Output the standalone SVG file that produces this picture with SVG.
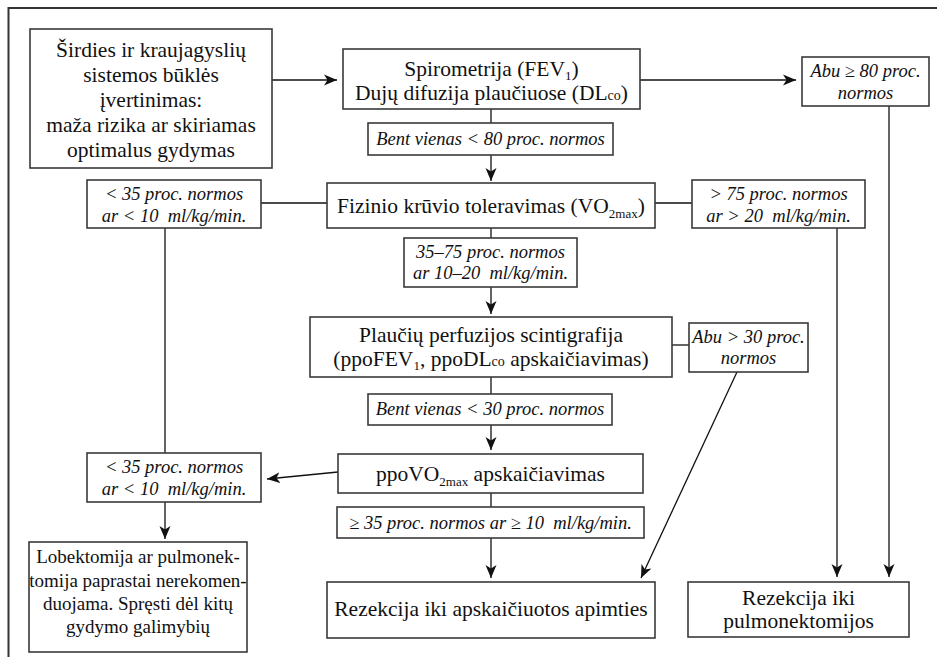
<svg xmlns="http://www.w3.org/2000/svg" width="937" height="657" viewBox="0 0 937 657">
  <style>
    .box { fill: #fff; stroke: #3a3a3a; stroke-width: 1.6; }
    text { font-family: "Liberation Serif", "Times New Roman", serif; fill: #111; text-anchor: middle; }
    .t { font-size: 21.5px; }
    .s { font-size: 19px; }
    .i { font-size: 18.5px; font-style: italic; white-space: pre; }
    .sub { font-size: 13px; }
    .sc { font-size: 14px; }
    .ln { fill: none; stroke: #111; stroke-width: 1.3; }
    .ar { fill: none; stroke: #111; stroke-width: 1.3; marker-end: url(#head); }
    .frame { fill: none; stroke: #333; stroke-width: 2; }
  </style>
  <defs>
    <marker id="head" markerUnits="userSpaceOnUse" markerWidth="14" markerHeight="12" refX="13" refY="6" orient="auto">
      <path d="M0,0.5 L13,6 L0,11.5 L3.5,6 Z" fill="#111"/>
    </marker>
  </defs>

  <rect width="937" height="657" fill="#fff"/>
  <path class="frame" d="M8.5,657 V8 H937"/>

  <g id="connectors">
    <line class="ar" x1="272" y1="80" x2="337" y2="80"/>
    <line class="ar" x1="640" y1="80" x2="796" y2="80"/>
    <line class="ar" x1="889" y1="106" x2="889" y2="577"/>
    <line class="ln" x1="491" y1="109" x2="491" y2="123"/>
    <line class="ar" x1="491" y1="155" x2="491" y2="181"/>
    <line class="ln" x1="327" y1="203" x2="261" y2="203"/>
    <line class="ln" x1="655" y1="203" x2="692" y2="203"/>
    <line class="ln" x1="165" y1="228" x2="165" y2="453"/>
    <line class="ln" x1="491" y1="228" x2="491" y2="238"/>
    <line class="ar" x1="491" y1="287" x2="491" y2="314"/>
    <line class="ar" x1="837" y1="228" x2="837" y2="577"/>
    <line class="ln" x1="672" y1="345" x2="689" y2="345"/>
    <line class="ar" x1="737" y1="372" x2="641" y2="578"/>
    <line class="ln" x1="491" y1="377" x2="491" y2="394"/>
    <line class="ar" x1="491" y1="425" x2="491" y2="450"/>
    <line class="ar" x1="338" y1="472" x2="267" y2="479"/>
    <line class="ar" x1="165" y1="502" x2="165" y2="539"/>
    <line class="ln" x1="491" y1="493" x2="491" y2="507"/>
    <line class="ar" x1="491" y1="538" x2="491" y2="578"/>
  </g>

  <g id="cardio">
    <rect class="box" x="30" y="29" width="242" height="139"/>
    <text class="t" x="151" y="57">Širdies ir kraujagyslių</text>
    <text class="t" x="151" y="82">sistemos būklės</text>
    <text class="t" x="151" y="107">įvertinimas:</text>
    <text class="t" x="151" y="132">maža rizika ar skiriamas</text>
    <text class="t" x="151" y="157">optimalus gydymas</text>
  </g>

  <g id="spirometry">
    <rect class="box" x="343" y="49" width="297" height="60"/>
    <text class="t" x="491.5" y="76">Spirometrija (FEV<tspan class="sub" dy="4">1</tspan><tspan dy="-4">)</tspan></text>
    <text class="t" x="491.5" y="100">Dujų difuzija plaučiuose (DL<tspan class="sc">co</tspan>)</text>
  </g>

  <g id="both80">
    <rect class="box" x="802" y="57" width="127" height="49"/>
    <text class="i" x="865.5" y="77">Abu ≥ 80 proc.</text>
    <text class="i" x="865.5" y="99">normos</text>
  </g>

  <g id="below80">
    <rect class="box" x="368" y="123" width="245" height="32"/>
    <text class="i" x="490.5" y="145">Bent vienas &lt; 80 proc. normos</text>
  </g>

  <g id="exercise">
    <rect class="box" x="327" y="183" width="328" height="45"/>
    <text class="t" x="491" y="213">Fizinio krūvio toleravimas (VO<tspan class="sub" dy="5">2max</tspan><tspan dy="-5">)</tspan></text>
  </g>

  <g id="low35">
    <rect class="box" x="87" y="180" width="174" height="48"/>
    <text class="i" x="174" y="200">&lt; 35 proc. normos</text>
    <text class="i" x="174" y="222">ar &lt; 10  ml/kg/min.</text>
  </g>

  <g id="high75">
    <rect class="box" x="692" y="180" width="173" height="48"/>
    <text class="i" x="778.5" y="200">&gt; 75 proc. normos</text>
    <text class="i" x="778.5" y="222">ar &gt; 20  ml/kg/min.</text>
  </g>

  <g id="mid3575">
    <rect class="box" x="404" y="238" width="173" height="49"/>
    <text class="i" x="490.5" y="258">35–75 proc. normos</text>
    <text class="i" x="490.5" y="279">ar 10–20  ml/kg/min.</text>
  </g>

  <g id="perfusion">
    <rect class="box" x="310" y="317" width="362" height="60"/>
    <text class="t" x="491" y="342">Plaučių perfuzijos scintigrafija</text>
    <text class="t" x="491" y="366">(ppoFEV<tspan class="sub" dy="4">1</tspan><tspan dy="-4">, ppoDL</tspan><tspan class="sc">co</tspan> apskaičiavimas)</text>
  </g>

  <g id="both30">
    <rect class="box" x="689" y="323" width="119" height="49"/>
    <text class="i" x="748.5" y="343">Abu &gt; 30 proc.</text>
    <text class="i" x="748.5" y="364">normos</text>
  </g>

  <g id="below30">
    <rect class="box" x="368" y="394" width="244" height="31"/>
    <text class="i" x="490" y="415">Bent vienas &lt; 30 proc. normos</text>
  </g>

  <g id="ppovo2">
    <rect class="box" x="338" y="454" width="305" height="39"/>
    <text class="t" x="490.5" y="481">ppoVO<tspan class="sub" dy="5">2max</tspan><tspan dy="-5"> apskaičiavimas</tspan></text>
  </g>

  <g id="low35b">
    <rect class="box" x="87" y="453" width="174" height="49"/>
    <text class="i" x="174" y="473">&lt; 35 proc. normos</text>
    <text class="i" x="174" y="495">ar &lt; 10  ml/kg/min.</text>
  </g>

  <g id="atleast35">
    <rect class="box" x="337" y="507" width="307" height="31"/>
    <text class="i" x="490.5" y="529">≥ 35 proc. normos ar ≥ 10  ml/kg/min.</text>
  </g>

  <g id="notrecommended">
    <rect class="box" x="29" y="542" width="218" height="110"/>
    <text class="s" x="138" y="563">Lobektomija ar pulmonek-</text>
    <text class="s" x="138" y="587">tomija paprastai nerekomen-</text>
    <text class="s" x="138" y="610">duojama. Spręsti dėl kitų</text>
    <text class="s" x="138" y="633">gydymo galimybių</text>
  </g>

  <g id="resectcalc">
    <rect class="box" x="327" y="582" width="328" height="56"/>
    <text class="t" x="491" y="616">Rezekcija iki apskaičiuotos apimties</text>
  </g>

  <g id="resectpneum">
    <rect class="box" x="688" y="582" width="221" height="55"/>
    <text class="t" x="798.5" y="605">Rezekcija iki</text>
    <text class="t" x="798.5" y="628">pulmonektomijos</text>
  </g>
</svg>
